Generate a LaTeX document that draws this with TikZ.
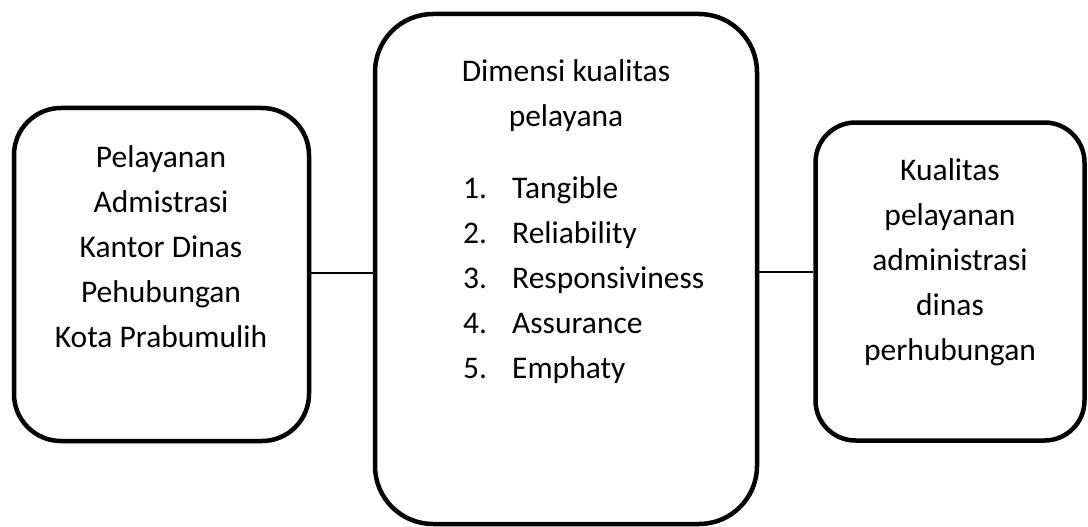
\documentclass[tikz,border=0pt]{standalone}
\usepackage{fontspec}
\setmainfont{Carlito}
\begin{document}
\begin{tikzpicture}[x=1pt,y=-1pt,
  box/.style={draw=black,line width=4.5pt,rectangle,inner sep=0pt},
  txt/.style={font=\fontsize{31.5}{45}\selectfont,align=center,inner sep=0pt},
  link/.style={draw=black,line width=1.3pt}]
\useasboundingbox (0,0) rectangle (1088,527);
% boxes
\node[box,rounded corners=47pt,minimum width=295pt,minimum height=333pt] (left) at (161.5,274.5) {};
\node[box,rounded corners=58pt,minimum width=382pt,minimum height=510pt] (mid) at (566,269) {};
\node[box,rounded corners=40pt,minimum width=269pt,minimum height=318pt] (right) at (950,281.5) {};
% texts
\node[txt] (ltext) at (161,247) {Pelayanan\\Admistrasi\\Kantor Dinas\\Pehubungan\\Kota Prabumulih};
\node[txt] (mhead) at (566,96) {Dimensi kualitas\\pelayana};
\node[txt,align=left,anchor=west] (mlist) at (463,280) {%
\makebox[49pt][l]{1.}Tangible\\
\makebox[49pt][l]{2.}Reliability\\
\makebox[49pt][l]{3.}Responsiviness\\
\makebox[49pt][l]{4.}Assurance\\
\makebox[49pt][l]{5.}Emphaty};
\node[txt] (rtext) at (950,262) {Kualitas\\pelayanan\\administrasi\\dinas\\perhubungan};
% connectors
\coordinate (l1) at (left.east |- 0,273);
\coordinate (m1) at (mid.west |- 0,273);
\coordinate (m2) at (mid.east |- 0,272);
\coordinate (r1) at (right.west |- 0,272);
\draw[link] (l1) -- (m1);
\draw[link] (m2) -- (r1);
\end{tikzpicture}
\end{document}
